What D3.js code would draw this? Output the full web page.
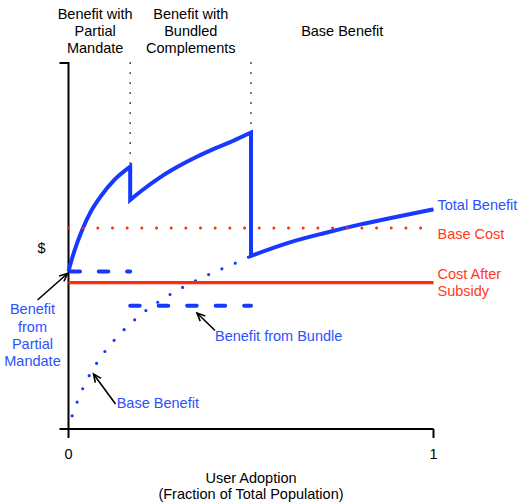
<!DOCTYPE html>
<html>
<head>
<meta charset="utf-8">
<script src="https://cdn.jsdelivr.net/npm/d3@7"></script>
<style>
  html, body { margin: 0; padding: 0; background: #fff; }
  svg { display: block; font-family: "Liberation Sans", Arial, Helvetica, sans-serif; }
</style>
</head>
<body>
<svg id="chart" width="519" height="503"></svg>
<script>
// ---------------- data ----------------
const xTickValues = [0, 1];
const xTickLabels = ["0", "1"];
const regionBounds = [0.169, 0.5];
const regionLabelX = [0.073, 0.335, 0.75];
const regionLabels = [
  ["Benefit with", "Partial", "Mandate"],
  ["Benefit with", "Bundled", "Complements"],
  ["", "Base Benefit"]
];

// Base benefit (dotted), region 0 .. 0.5
const baseX = [0.01, 0.025, 0.05, 0.08, 0.10, 0.15, 0.20, 0.25, 0.30, 0.35, 0.40, 0.45, 0.50];
const baseV = [0.036, 0.077, 0.133, 0.184, 0.212, 0.269, 0.314, 0.350, 0.380, 0.406, 0.429, 0.450, 0.473];

// Total benefit, three segments
const total1X = [0, 0.01, 0.025, 0.04, 0.06, 0.09, 0.125, 0.169];
const total1V = [0.432, 0.467, 0.512, 0.550, 0.592, 0.638, 0.680, 0.717];
const total2X = [0.169, 0.20, 0.25, 0.30, 0.35, 0.40, 0.45, 0.50];
const total2V = [0.626, 0.651, 0.687, 0.717, 0.743, 0.766, 0.787, 0.810];
const total3X = [0.50, 0.60, 0.70, 0.80, 0.90, 1.00];
const total3V = [0.473, 0.508, 0.535, 0.559, 0.580, 0.600];

const mandateBenefit = 0.430;   // dashed, 0 .. 0.169
const bundleBenefit = 0.337;    // dashed, 0.169 .. 0.5
const baseCost = 0.549;         // dotted red
const costAfterSubsidy = 0.400; // solid red

// ---------------- setup ----------------
const BLUE = "#1638ff";
const BLUE_TEXT = "#2a52ff";
const RED = "#ff2a08";
const RED_TEXT = "#ff3a1c";
const FS = 14.5;

const svg = d3.select("#chart");
const x = d3.scaleLinear().domain([0, 1]).range([68.5, 433.5]);
const y = d3.scaleLinear().domain([0, 1]).range([429, 63]);

const line = d3.line().x(d => x(d[0])).y(d => y(d[1]));
const curve = d3.line().x(d => x(d[0])).y(d => y(d[1])).curve(d3.curveMonotoneX);
const zip = (a, b) => a.map((v, i) => [v, b[i]]);

// ---------------- axes ----------------
const yAxis = d3.axisLeft(y).tickValues([]).tickSizeOuter(9).offset(0);
svg.append("g").attr("transform", `translate(${x(0)},0)`).call(yAxis)
  .call(g => g.select(".domain").attr("stroke", "#000").attr("stroke-width", 2));

const xAxis = d3.axisBottom(x).tickValues(xTickValues)
  .tickFormat((d, i) => xTickLabels[i]).tickSize(9).tickSizeOuter(0).tickPadding(11).offset(0);
svg.append("g").attr("transform", `translate(0,${y(0)})`).call(xAxis)
  .call(g => g.select(".domain").attr("stroke", "#000").attr("stroke-width", 2))
  .call(g => g.selectAll(".tick line").attr("stroke", "#000").attr("stroke-width", 2))
  .call(g => g.selectAll(".tick text").attr("font-size", FS).attr("fill", "#000")
    .attr("font-family", "Liberation Sans, Arial, sans-serif"));

svg.append("text").attr("x", (x(0) + x(1)) / 2).attr("y", 483).attr("text-anchor", "middle")
  .attr("font-size", FS).text("User Adoption");
svg.append("text").attr("x", (x(0) + x(1)) / 2).attr("y", 499).attr("text-anchor", "middle")
  .attr("font-size", FS).text("(Fraction of Total Population)");
svg.append("text").attr("x", 41.5).attr("y", 252.5).attr("text-anchor", "middle")
  .attr("font-size", FS).text("$");

// ---------------- region separators ----------------
const regionTop = [total1V[total1V.length - 1], total2V[total2V.length - 1]];
regionBounds.forEach((b, i) => {
  svg.append("path").attr("d", line([[b, 1], [b, regionTop[i]]]))
    .attr("fill", "none").attr("stroke", "#000").attr("stroke-width", 1.7)
    .attr("stroke-linecap", "round").attr("stroke-dasharray", "0,10");
});

regionLabels.forEach((lines, i) => {
  const t = svg.append("text").attr("text-anchor", "middle").attr("font-size", FS);
  lines.forEach((s, j) => {
    t.append("tspan").attr("x", x(regionLabelX[i])).attr("y", 19 + j * 17).text(s);
  });
});

// ---------------- benefit lines ----------------
svg.append("path").attr("d", curve(zip(baseX, baseV)))
  .attr("fill", "none").attr("stroke", BLUE).attr("stroke-width", 3.2)
  .attr("stroke-linecap", "round").attr("stroke-dasharray", "0,14.5");

svg.append("path").attr("d", line([[0, mandateBenefit], [regionBounds[0], mandateBenefit]]))
  .attr("fill", "none").attr("stroke", BLUE).attr("stroke-width", 4)
  .attr("stroke-linecap", "round").attr("stroke-dasharray", "9.5,18.8").attr("stroke-dashoffset", -2);
svg.append("path").attr("d", line([[regionBounds[0], bundleBenefit], [regionBounds[1], bundleBenefit]]))
  .attr("fill", "none").attr("stroke", BLUE).attr("stroke-width", 4)
  .attr("stroke-linecap", "round").attr("stroke-dasharray", "9.5,19");

const totalPath = curve(zip(total1X, total1V))
  + curve(zip(total2X, total2V)).replace(/^M/, "L")
  + curve(zip(total3X, total3V)).replace(/^M/, "L");
svg.append("path").attr("d", totalPath)
  .attr("fill", "none").attr("stroke", BLUE).attr("stroke-width", 4)
  .attr("stroke-linejoin", "miter").attr("stroke-miterlimit", 10);

// ---------------- cost lines ----------------
svg.append("path").attr("d", line([[0, baseCost], [1, baseCost]]))
  .attr("fill", "none").attr("stroke", RED).attr("stroke-width", 3)
  .attr("stroke-linecap", "round").attr("stroke-dasharray", "0,14.67");
svg.append("path").attr("d", line([[0, costAfterSubsidy], [1, costAfterSubsidy]]))
  .attr("fill", "none").attr("stroke", RED).attr("stroke-width", 3.2);

// ---------------- right labels ----------------
const rightLabels = [
  { lines: ["Total Benefit"], y: 209.5, color: BLUE_TEXT },
  { lines: ["Base Cost"], y: 238.5, color: RED_TEXT },
  { lines: ["Cost After", "Subsidy"], y: 279, color: RED_TEXT }
];
rightLabels.forEach(l => {
  const t = svg.append("text").attr("font-size", FS).attr("fill", l.color);
  l.lines.forEach((s, j) => t.append("tspan").attr("x", 437.5).attr("y", l.y + j * 17).text(s));
});

// ---------------- annotations ----------------
svg.append("defs").append("marker").attr("id", "arrow")
  .attr("viewBox", "-10 -6 12 12").attr("refX", 0).attr("refY", 0)
  .attr("markerWidth", 12).attr("markerHeight", 12).attr("markerUnits", "userSpaceOnUse")
  .attr("orient", "auto")
  .append("path").attr("d", "M-8,-3.6L0,0L-8,3.6").attr("fill", "none")
  .attr("stroke", "#000").attr("stroke-width", 1.6);

const arrows = [
  [[37.5, 300], [67.5, 273.5]],
  [[115.5, 404], [93.5, 374]],
  [[215, 330.5], [197, 313]]
];
arrows.forEach(a => {
  svg.append("line").attr("x1", a[0][0]).attr("y1", a[0][1]).attr("x2", a[1][0]).attr("y2", a[1][1])
    .attr("stroke", "#000").attr("stroke-width", 1.6).attr("marker-end", "url(#arrow)");
});

const leftLab = svg.append("text").attr("font-size", FS).attr("fill", BLUE_TEXT).attr("text-anchor", "middle");
["Benefit", "from", "Partial", "Mandate"].forEach((s, j) =>
  leftLab.append("tspan").attr("x", 32.5).attr("y", 314.3 + j * 17.2).text(s));

svg.append("text").attr("x", 116.7).attr("y", 408.3).attr("font-size", FS).attr("fill", BLUE_TEXT).text("Base Benefit");
svg.append("text").attr("x", 215).attr("y", 340.8).attr("font-size", FS).attr("fill", BLUE_TEXT).text("Benefit from Bundle");
</script>
</body>
</html>
